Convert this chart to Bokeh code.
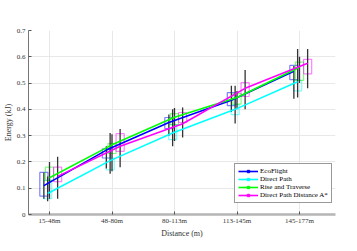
from bokeh.plotting import figure
from bokeh.models import Range1d, FixedTicker, Legend, LegendItem, ColumnDataSource
from bokeh.embed import file_html
from bokeh.resources import INLINE

categories = ["15-48m", "48-80m", "80-113m", "113-145m", "145-177m"]
series_names = ["EcoFlight", "Direct Path", "Rise and Traverse", "Direct Path Distance A*"]
colors = ["#0000ff", "#00ffff", "#00ff00", "#ff00ff"]

eco_mean = [0.11, 0.245, 0.35, 0.435, 0.545]
eco_box_lo = [0.07, 0.215, 0.327, 0.414, 0.513]
eco_box_hi = [0.16, 0.25, 0.369, 0.464, 0.567]
eco_wh_lo = [0.06, 0.175, 0.30, 0.39, 0.44]
eco_wh_hi = [0.16, 0.26, 0.38, 0.49, 0.565]

dir_mean = [0.08, 0.205, 0.31, 0.40, 0.505]
dir_box_lo = [0.06, 0.17, 0.285, 0.38, 0.47]
dir_box_hi = [0.13, 0.215, 0.342, 0.418, 0.51]
dir_wh_lo = [0.05, 0.155, 0.26, 0.346, 0.445]
dir_wh_hi = [0.145, 0.31, 0.40, 0.49, 0.63]

rat_mean = [0.14, 0.265, 0.37, 0.445, 0.56]
rat_box_lo = [0.13, 0.232, 0.342, 0.42, 0.51]
rat_box_hi = [0.18, 0.27, 0.384, 0.46, 0.58]
rat_wh_lo = [0.06, 0.165, 0.28, 0.40, 0.50]
rat_wh_hi = [0.20, 0.305, 0.405, 0.47, 0.60]

dpa_mean = [0.145, 0.26, 0.345, 0.48, 0.575]
dpa_box_lo = [0.125, 0.24, 0.35, 0.449, 0.535]
dpa_box_hi = [0.18, 0.308, 0.388, 0.502, 0.59]
dpa_wh_lo = [0.06, 0.18, 0.293, 0.40, 0.48]
dpa_wh_hi = [0.22, 0.325, 0.407, 0.55, 0.63]

y_ticks = [0, 0.1, 0.2, 0.3, 0.4, 0.5, 0.6, 0.7]

series = [
    (eco_mean, eco_box_lo, eco_box_hi, eco_wh_lo, eco_wh_hi),
    (dir_mean, dir_box_lo, dir_box_hi, dir_wh_lo, dir_wh_hi),
    (rat_mean, rat_box_lo, rat_box_hi, rat_wh_lo, rat_wh_hi),
    (dpa_mean, dpa_box_lo, dpa_box_hi, dpa_wh_lo, dpa_wh_hi),
]
offsets = [-0.09, -0.03, 0.0, 0.13]
half_w = 0.065
FONT = "Liberation Serif"

p = figure(width=345, height=244, output_backend="svg", toolbar_location=None,
           x_range=Range1d(0.664, 5.576), y_range=Range1d(0, 0.7),
           min_border_left=28, min_border_right=10, min_border_top=30, min_border_bottom=30)
p.outline_line_color = None
p.background_fill_color = "white"

base = list(range(1, len(categories) + 1))

srcs = []
for (m, blo, bhi, wlo, whi), off, c in zip(series, offsets, colors):
    xs = [b + off for b in base]
    src = ColumnDataSource(dict(x=xs, left=[x - half_w for x in xs], right=[x + half_w for x in xs],
                                blo=blo, bhi=bhi, wlo=wlo, whi=whi, m=m))
    p.quad(left="left", right="right", bottom="blo", top="bhi", source=src,
           fill_color=None, line_color=c, line_alpha=0.5, line_width=1.2)
    srcs.append(src)

for src in srcs:
    p.segment(x0="x", x1="x", y0="wlo", y1="whi", source=src, line_color="#333333", line_width=1.3)

for src, c in zip(srcs, colors):
    p.line(x="x", y="m", source=src, line_color=c, line_width=1.6)

items = []
for name, c in zip(series_names, colors):
    lr = p.line(x=[-10, -9], y=[-10, -10], line_color=c, line_width=1.6)
    sr = p.scatter(x=[-10], y=[-10], marker="square", size=6, fill_color=c, line_color=c)
    items.append(LegendItem(label=name, renderers=[lr, sr]))

legend = Legend(items=items, location=(206, 11))
legend.label_text_font = FONT
legend.label_text_font_size = "7px"
legend.label_text_color = "#000000"
legend.label_height = 6
legend.label_standoff = 2
legend.glyph_height = 6
legend.glyph_width = 20
legend.spacing = 0
legend.padding = 3
legend.margin = 0
legend.border_line_color = "#333333"
legend.border_line_width = 1
legend.background_fill_alpha = 1
legend.label_text_line_height = 1.0
p.add_layout(legend, "center")

p.xaxis.ticker = FixedTicker(ticks=base)
p.xaxis.major_label_overrides = {b: lab for b, lab in zip(base, categories)}
p.yaxis.ticker = FixedTicker(ticks=y_ticks)
p.yaxis.major_label_overrides = {0: "0"}
p.xaxis.axis_label = "Distance (m)"
p.yaxis.axis_label = "Energy (kJ)"

for ax in (p.xaxis, p.yaxis):
    ax.major_label_text_font = FONT
    ax.major_label_text_font_size = "7px"
    ax.major_label_text_color = "#333333"
    ax.axis_label_text_font = FONT
    ax.axis_label_text_font_size = "8px"
    ax.axis_label_text_font_style = "normal"
    ax.axis_label_text_color = "#333333"
    ax.major_tick_in = 3
    ax.major_tick_out = 0
    ax.minor_tick_line_color = None
    ax.major_tick_line_color = "#555555"
    ax.axis_label_standoff = 1
    ax.major_label_standoff = 3

p.xaxis.major_label_standoff = 2
p.xaxis.axis_line_color = "#b5b5b5"
p.xaxis.axis_line_width = 2.5
p.yaxis.axis_line_color = "#777777"
p.yaxis.axis_line_width = 1

p.xgrid.ticker = FixedTicker(ticks=base)
p.ygrid.ticker = FixedTicker(ticks=y_ticks)
p.grid.grid_line_color = "#e8e8e8"
p.grid.grid_line_width = 1

open("out.html", "w").write(file_html(p, INLINE))
